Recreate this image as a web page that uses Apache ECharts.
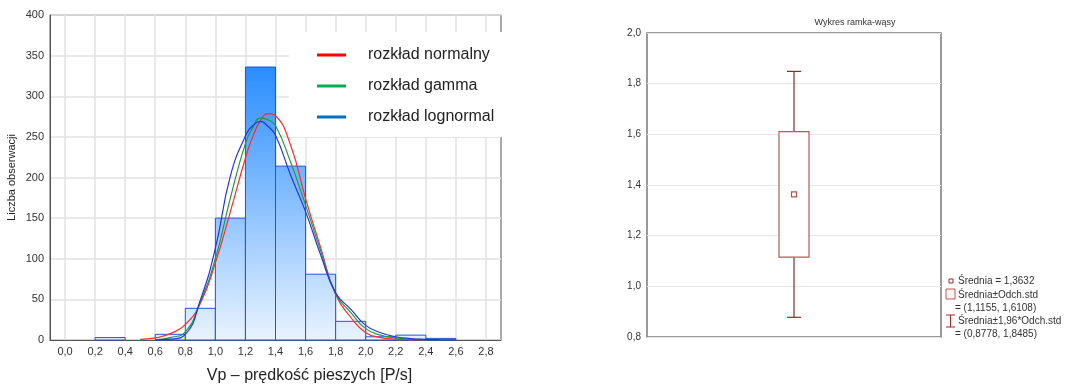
<!DOCTYPE html>
<html>
<head>
<meta charset="utf-8">
<script src="https://cdn.jsdelivr.net/npm/echarts@6/dist/echarts.min.js"></script>
<style>
  html, body { margin: 0; padding: 0; background: #fff; }
  #main { width: 1066px; height: 389px; }
</style>
</head>
<body>
<div id="main"></div>
<script>
// histogram bins (start of each 0.2 wide bin) and counts
var binStart = [0.2, 0.6, 0.8, 1.0, 1.2, 1.4, 1.6, 1.8, 2.0, 2.2, 2.4]
var binCount = [3, 7, 39, 150, 336, 214, 81, 23, 4, 6, 2]
var binWidth = 0.2
var xTicks = [0, 0.2, 0.4, 0.6, 0.8, 1.0, 1.2, 1.4, 1.6, 1.8, 2.0, 2.2, 2.4, 2.6, 2.8]

// fitted curves
var curveX = [0.5, 0.6, 0.7, 0.8, 0.9, 1.0, 1.1, 1.2, 1.25, 1.3, 1.35, 1.4, 1.5, 1.6, 1.7, 1.8, 1.9, 2.0, 2.1, 2.2, 2.3, 2.4, 2.5, 2.6]
var normalY = [0.7, 2.6, 7.8, 19, 45, 95, 158, 224, 251, 270, 278.5, 276, 240, 174, 114, 56, 28, 9, 3, 1, 0.2, 0, null, null]
var gammaY = [null, 0.5, 3, 10, 47, 100, 175, 242, 262, 273.5, 271, 264, 219, 166, 110, 57, 34, 14, 6, 2.5, 1, 0.3, 0.1, null]
var lognormY = [null, 0, 1, 7, 49, 113, 202, 251, 264, 269, 263, 252, 203, 158, 105, 58, 38, 18, 9, 4, 1.8, 0.8, 0.3, 0.1]

// box plot statistics
var boxMean = 1.3632
var boxSdLow = 1.1155
var boxSdHigh = 1.6108
var boxCiLow = 0.8778
var boxCiHigh = 1.8485

var font = 'Arial, "Liberation Sans", sans-serif'
var comma = function (v) { return v.toFixed(1).replace('.', ',') }
var pairs = function (ys) { return curveX.map(function (x, i) { return [x, ys[i]] }) }

var chart = echarts.init(document.getElementById('main'))

var option = {
    backgroundColor: '#fff',
    animation: false,
    textStyle: { fontFamily: font },
    title: {
        text: 'Wykres ramka-wąsy',
        left: 850,
        top: 13,
        textAlign: 'center',
        textStyle: { fontSize: 9, fontWeight: 'normal', color: '#333', fontFamily: font }
    },
    grid: [
        { left: 50, top: 15, width: 451, height: 328, show: true, borderColor: '#555', borderWidth: 1, backgroundColor: 'transparent' },
        { left: 647, top: 33, width: 294, height: 304, show: true, borderColor: '#7a7a7a', borderWidth: 1.5, backgroundColor: 'transparent' }
    ],
    legend: [{
        data: [
            { name: 'rozkład normalny', itemStyle: { color: '#ff0000' } },
            { name: 'rozkład gamma', itemStyle: { color: '#00b050' } },
            { name: 'rozkład lognormal', itemStyle: { color: '#0070c0' } }
        ],
        orient: 'vertical',
        left: 289,
        top: 32,
        padding: [15, 8, 12, 28],
        itemGap: 15,
        icon: 'rect',
        itemWidth: 29,
        itemHeight: 3,
        backgroundColor: '#fff',
        selectedMode: false,
        textStyle: { fontSize: 16, color: '#222', fontFamily: font, padding: [0, 0, 0, 17] }
    }],
    xAxis: [{
        gridIndex: 0,
        type: 'value',
        min: -0.1,
        max: 2.9,
        name: 'Vp – prędkość pieszych [P/s]',
        nameLocation: 'middle',
        nameGap: 28,
        nameTextStyle: { fontSize: 16, color: '#222', padding: [0, 0, 0, 68] },
        axisLine: { show: true, onZero: false, lineStyle: { color: '#555' } },
        axisTick: { show: false, customValues: xTicks },
        axisLabel: { customValues: xTicks, formatter: comma, fontSize: 11, color: '#333', margin: 6 },
        splitLine: { show: true, lineStyle: { color: '#e2e2e2', width: 1.5 } }
    }, {
        gridIndex: 1,
        type: 'category',
        data: [''],
        axisLine: { show: false },
        axisTick: { show: false },
        axisLabel: { show: false },
        splitLine: { show: false }
    }],
    yAxis: [{
        gridIndex: 0,
        type: 'value',
        min: 0,
        max: 400,
        interval: 50,
        name: 'Liczba obserwacji',
        nameLocation: 'middle',
        nameGap: 33,
        nameTextStyle: { fontSize: 11, color: '#222' },
        axisLine: { show: true, onZero: false, lineStyle: { color: '#555' } },
        axisTick: { show: false },
        axisLabel: { fontSize: 11, color: '#333', margin: 6 },
        splitLine: { show: true, lineStyle: { color: '#e2e2e2', width: 1.5 } }
    }, {
        gridIndex: 1,
        type: 'value',
        min: 0.8,
        max: 2.0,
        interval: 0.2,
        axisLine: { show: false },
        axisTick: { show: false },
        axisLabel: { fontSize: 10, color: '#333', margin: 6, formatter: comma },
        splitLine: { show: true, lineStyle: { color: '#e6e6e6', width: 1.2 } }
    }],
    series: [
        {
            type: 'custom',
            name: 'histogram',
            xAxisIndex: 0,
            yAxisIndex: 0,
            encode: { x: 0, y: 1 },
            data: binStart.map(function (s, i) { return [s, binCount[i]] }),
            renderItem: function (params, api) {
                var x0 = api.value(0), v = api.value(1)
                var p0 = api.coord([x0, v])
                var p1 = api.coord([x0 + binWidth, 0])
                var top = api.coord([0, 400])[1]
                var bottom = api.coord([0, 0])[1]
                return {
                    type: 'rect',
                    shape: { x: p0[0], y: p0[1], width: p1[0] - p0[0], height: p1[1] - p0[1] },
                    style: {
                        fill: new echarts.graphic.LinearGradient(0, top, 0, bottom, [
                            { offset: 0, color: '#0679ff' },
                            { offset: 1, color: '#e9f3ff' }
                        ], true),
                        stroke: '#1f55d6',
                        lineWidth: 1
                    }
                }
            }
        },
        {
            type: 'line', name: 'rozkład normalny', xAxisIndex: 0, yAxisIndex: 0,
            data: pairs(normalY), smooth: true, showSymbol: false, connectNulls: false,
            lineStyle: { color: '#ff2a2a', width: 1.2 }, itemStyle: { color: '#ff0000' }
        },
        {
            type: 'line', name: 'rozkład gamma', xAxisIndex: 0, yAxisIndex: 0,
            data: pairs(gammaY), smooth: true, showSymbol: false,
            lineStyle: { color: '#1f9a3c', width: 1.2 }, itemStyle: { color: '#00b050' }
        },
        {
            type: 'line', name: 'rozkład lognormal', xAxisIndex: 0, yAxisIndex: 0,
            data: pairs(lognormY), smooth: true, showSymbol: false,
            lineStyle: { color: '#2233ee', width: 1.2 }, itemStyle: { color: '#0070c0' }
        },
        {
            type: 'custom',
            name: 'ramka',
            xAxisIndex: 1,
            yAxisIndex: 1,
            encode: { x: 0, y: [1, 2, 3, 4] },
            data: [[0, boxCiLow, boxSdLow, boxSdHigh, boxCiHigh]],
            renderItem: function (params, api) {
                var lo = api.coord([api.value(0), api.value(1)])
                var q1 = api.coord([api.value(0), api.value(2)])
                var q3 = api.coord([api.value(0), api.value(3)])
                var hi = api.coord([api.value(0), api.value(4)])
                var cx = lo[0]
                var wLine = { stroke: '#8e2a2a', lineWidth: 1.2 }
                return {
                    type: 'group',
                    children: [
                        { type: 'line', shape: { x1: cx, y1: hi[1], x2: cx, y2: q3[1] }, style: wLine },
                        { type: 'line', shape: { x1: cx, y1: q1[1], x2: cx, y2: lo[1] }, style: wLine },
                        { type: 'line', shape: { x1: cx - 7, y1: hi[1], x2: cx + 7, y2: hi[1] }, style: wLine },
                        { type: 'line', shape: { x1: cx - 7, y1: lo[1], x2: cx + 7, y2: lo[1] }, style: wLine },
                        { type: 'rect', shape: { x: cx - 15, y: q3[1], width: 30, height: q1[1] - q3[1] },
                          style: { fill: '#fff', stroke: '#b85a5a', lineWidth: 1.2 } }
                    ]
                }
            }
        },
        {
            type: 'scatter',
            name: 'Średnia',
            xAxisIndex: 1,
            yAxisIndex: 1,
            data: [[0, boxMean]],
            symbol: 'rect',
            symbolSize: 5,
            z: 5,
            itemStyle: { color: '#fff', borderColor: '#a02828', borderWidth: 1.2 }
        }
    ],
    graphic: [
        { type: 'rect', shape: { x: 949, y: 279, width: 4, height: 4 }, style: { fill: '#fff', stroke: '#a02828', lineWidth: 1 } },
        { type: 'text', x: 958, y: 281, style: { text: 'Średnia = 1,3632', fill: '#333', font: '10px ' + font, verticalAlign: 'middle' } },
        { type: 'rect', shape: { x: 946, y: 289, width: 9, height: 10 }, style: { fill: '#fff6f2', stroke: '#b85a5a', lineWidth: 1 } },
        { type: 'text', x: 958, y: 295, style: { text: 'Średnia±Odch.std', fill: '#333', font: '10px ' + font, verticalAlign: 'middle' } },
        { type: 'text', x: 955, y: 308, style: { text: '= (1,1155, 1,6108)', fill: '#333', font: '10px ' + font, verticalAlign: 'middle' } },
        { type: 'polyline', shape: { points: [[946, 315], [955, 315]] }, style: { stroke: '#a02828', lineWidth: 1 } },
        { type: 'polyline', shape: { points: [[950.5, 315], [950.5, 327]] }, style: { stroke: '#a02828', lineWidth: 1 } },
        { type: 'polyline', shape: { points: [[946, 327], [955, 327]] }, style: { stroke: '#a02828', lineWidth: 1 } },
        { type: 'text', x: 958, y: 321, style: { text: 'Średnia±1,96*Odch.std', fill: '#333', font: '10px ' + font, verticalAlign: 'middle' } },
        { type: 'text', x: 955, y: 334, style: { text: '= (0,8778, 1,8485)', fill: '#333', font: '10px ' + font, verticalAlign: 'middle' } }
    ]
}

chart.setOption(option)
</script>
</body>
</html>
